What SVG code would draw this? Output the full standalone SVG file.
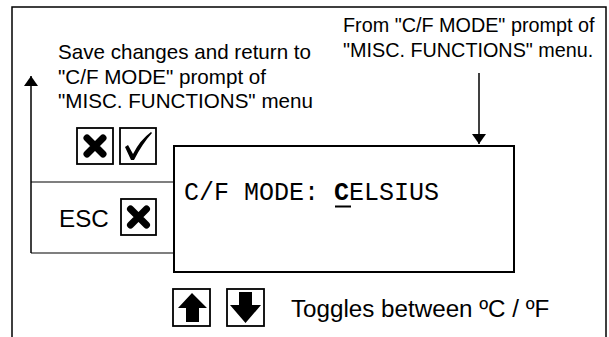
<svg xmlns="http://www.w3.org/2000/svg" width="609" height="337" viewBox="0 0 609 337">
<defs>
<style>
.t{font-family:"Liberation Sans",Arial,sans-serif;font-size:20.6px;fill:#000}
.r{font-size:19.8px}
.b{font-size:24.2px}
.m{font-family:"Liberation Mono","Courier New",monospace;font-size:25px;fill:#000}
.ln{stroke:#000;stroke-width:1.5;fill:none}
.gr{stroke:#555;stroke-width:1.5;fill:none}
.ib{fill:#fff;stroke:#000;stroke-width:1.8}
.x{stroke:#000;stroke-width:7;stroke-linecap:round;fill:none}
</style>
<marker id="ah" viewBox="0 0 10 14" refX="10" refY="7" markerWidth="10" markerHeight="14" markerUnits="userSpaceOnUse" orient="auto">
<path d="M0,0 L10,7 L0,14 Z" fill="#000"/>
</marker>
<g id="xicon">
<path class="x" d="M-8,-8 L8,8 M8,-8 L-8,8"/>
</g>
</defs>
<rect width="609" height="337" fill="#fff"/>
<rect id="frame" x="12" y="7" width="594" height="345" fill="none" stroke="#000" stroke-width="1.5"/>

<g id="connectors">
<path class="gr" d="M174,182 H31 M174,253 H31"/>
<path class="ln" d="M31,253 V76" marker-end="url(#ah)"/>
<path class="ln" d="M479,73 V144" marker-end="url(#ah)"/>
</g>

<g id="save-label">
<text class="t" x="58" y="59">Save changes and return to</text>
<text class="t" x="58" y="84">"C/F MODE" prompt of</text>
<text class="t" x="58" y="108">"MISC. FUNCTIONS" menu</text>
</g>

<g id="from-label">
<text class="t r" x="343" y="32">From "C/F MODE" prompt of</text>
<text class="t r" x="343" y="57">"MISC. FUNCTIONS" menu.</text>
</g>

<g id="save-keys">
<rect class="ib" x="77" y="128" width="36" height="36"/>
<use href="#xicon" x="95" y="146"/>
<rect class="ib" x="120" y="128" width="36" height="36"/>
<path d="M125,147 L128,145 L133,154 Q140,140 151,132 L152,133 Q142,144 134,160 L131,160 Z" fill="#000"/>
</g>

<g id="display">
<rect x="174" y="146" width="340" height="126" fill="#fff" stroke="#000" stroke-width="2"/>
<text class="m" x="184" y="200">C/F MODE: <tspan font-weight="bold">C</tspan>ELSIUS</text>
<rect x="335" y="205.5" width="16" height="2" fill="#000"/>
</g>

<g id="esc">
<text class="t b" x="59" y="227">ESC</text>
<rect class="ib" x="121" y="199" width="35" height="36"/>
<use href="#xicon" x="138.5" y="217"/>
</g>

<g id="toggle">
<rect class="ib" x="173" y="289" width="37" height="37"/>
<path d="M192,293 L207,308 L199,308 L199,322 L186,322 L186,308 L178,308 Z" fill="#000"/>
<rect class="ib" x="227" y="289" width="37" height="37"/>
<path d="M239,292 L252,292 L252,305 L261,305 L245.5,323 L230,305 L239,305 Z" fill="#000"/>
<text class="t b" x="291" y="317" font-size="24.5">Toggles between ºC / ºF</text>
</g>
</svg>
